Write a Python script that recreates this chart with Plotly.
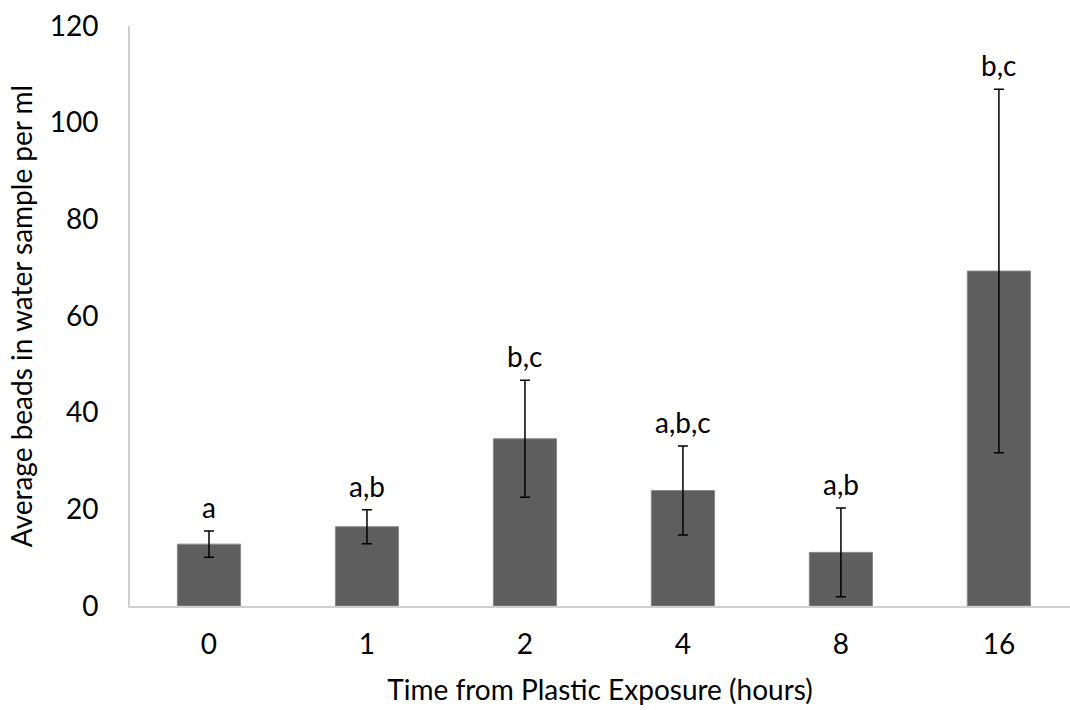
import plotly.graph_objects as go

# Exposure times (hours) and bead counts per ml of water sample
hours = ["0", "1", "2", "4", "8", "16"]
mean_beads = [12.8, 16.4, 34.6, 23.9, 11.1, 69.3]
err_beads = [2.7, 3.5, 12.1, 9.2, 9.2, 37.6]
letters = ["a", "a,b", "b,c", "a,b,c", "a,b", "b,c"]

FONT = "Lato"
SIZE = 28

pos = list(range(len(hours)))

fig = go.Figure()
fig.add_trace(go.Bar(
    x=pos,
    y=mean_beads,
    width=0.4,
    marker=dict(color="#5e5e5e", line=dict(color="#8a8a8a", width=1)),
    error_y=dict(type="data", array=err_beads, visible=True,
                 color="#000000", thickness=1.5, width=5),
    showlegend=False,
))

for p, m, e, t in zip(pos, mean_beads, err_beads, letters):
    fig.add_annotation(
        x=p, y=m + e, text=t, showarrow=False,
        yanchor="bottom", yshift=5,
        font=dict(family=FONT, size=SIZE, color="#000000"),
    )

fig.update_layout(
    width=1070, height=710,
    margin=dict(l=130, r=0, t=26, b=104),
    paper_bgcolor="white", plot_bgcolor="white",
    font=dict(family=FONT, size=SIZE, color="#000000"),
    xaxis=dict(
        range=[-0.5, 5.45],
        tickmode="array", tickvals=pos, ticktext=hours,
        showline=True, linecolor="#d0d0d0", linewidth=2,
        showgrid=False, zeroline=False, ticks="",
        ticklabelstandoff=12,
        tickfont=dict(family=FONT, size=SIZE),
        title=dict(text="Time from Plastic Exposure (hours)",
                   font=dict(family=FONT, size=SIZE), standoff=22),
    ),
    yaxis=dict(
        range=[0, 120], dtick=20,
        showline=True, linecolor="#d0d0d0", linewidth=2,
        showgrid=False, zeroline=False, ticks="",
        ticklabelstandoff=24,
        tickfont=dict(family=FONT, size=SIZE),
        title=dict(text="Average beads in water sample per ml",
                   font=dict(family=FONT, size=SIZE), standoff=9),
    ),
)

fig.write_html("out.html")
